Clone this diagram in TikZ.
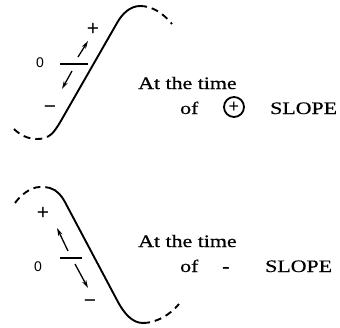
\documentclass[tikz,border=0pt]{standalone}
\usepackage{fontspec}
\setmainfont{Liberation Serif}[FakeStretch=1.25,FakeBold=0.6]
\newfontfamily\lblfont{Liberation Sans}
\usetikzlibrary{arrows.meta}
\begin{document}
\begin{tikzpicture}[x=1pt,y=-1pt,
  curve/.style={line width=1.9pt,line cap=round},
  dcurve/.style={line width=1.9pt,dash pattern=on 7pt off 5pt},
  tick/.style={line width=1.4pt},
  arr/.style={line width=1.3pt,-{Stealth[length=8pt,width=4.5pt]}},
  txt/.style={anchor=base west,inner sep=0pt,font=\fontsize{17.5}{20}\selectfont},
  lbl/.style={inner sep=0pt,font=\lblfont\fontsize{14}{16}\selectfont},
  sgn/.style={inner sep=0pt,font=\lblfont\fontsize{21}{23}\selectfont}]
\useasboundingbox (0,0) rectangle (340,327);
% ---------- top: positive slope ----------
\draw[dcurve] (14,129) .. controls (20,135) and (28,139) .. (37,139) .. controls (42,139) and (45,138) .. (49,136);
\draw[curve] (49,136) .. controls (53,134) and (58,126) .. (62,119) -- (117,23) .. controls (122,14) and (130,6) .. (140,6);
\draw[dcurve] (140,6) .. controls (152,6) and (163,13) .. (172,24);
\node[lbl] (z1) at (40,63) {0};
\coordinate (t1a) at (60,64);
\coordinate (t1b) at (88,64);
\draw[tick] (t1a) -- (t1b);
\coordinate (u1s) at (78,57);
\coordinate (u1e) at (88,41);
\draw[arr] (u1s) -- (u1e);
\coordinate (d1s) at (72,71);
\coordinate (d1e) at (62,89);
\draw[arr] (d1s) -- (d1e);
\node[sgn] (p1) at (93,29) {+};
\node[sgn] (m1) at (50,110) {−};
\node[txt] (a1) at (138,89) {At the time};
\node[txt] (o1) at (180,114) {of};
\node[circle,draw,line width=1.8pt,inner sep=0pt,minimum size=20pt,font=\lblfont\fontsize{18}{18}\selectfont] (c1) at (234,107) {+};
\node[txt] (s1) at (270,114) {SLOPE};
% ---------- bottom: negative slope ----------
\draw[dcurve] (15,203) .. controls (20,196) and (30,187) .. (40,187) .. controls (44,187) and (47,187) .. (50,188);
\draw[curve] (50,188) .. controls (57,190) and (62,196) .. (66,204) -- (118,302) .. controls (124,313) and (132,323) .. (143,323);
\draw[dcurve] (143,323) .. controls (156,323) and (170,315) .. (179,304);
\node[sgn] (p2) at (43,213) {+};
\node[lbl] (z2) at (38,267) {0};
\coordinate (t2a) at (60,258);
\coordinate (t2b) at (82,258);
\draw[tick] (t2a) -- (t2b);
\coordinate (u2s) at (68,251);
\coordinate (u2e) at (57,228);
\draw[arr] (u2s) -- (u2e);
\coordinate (d2s) at (75,264);
\coordinate (d2e) at (88,288);
\draw[arr] (d2s) -- (d2e);
\node[sgn] (m2) at (90,304) {−};
\node[txt] (a2) at (138,247) {At the time};
\node[txt] (o2) at (180,272) {of};
\node[txt] (n2) at (222,272) {-};
\node[txt] (s2) at (265,272) {SLOPE};
\end{tikzpicture}
\end{document}
